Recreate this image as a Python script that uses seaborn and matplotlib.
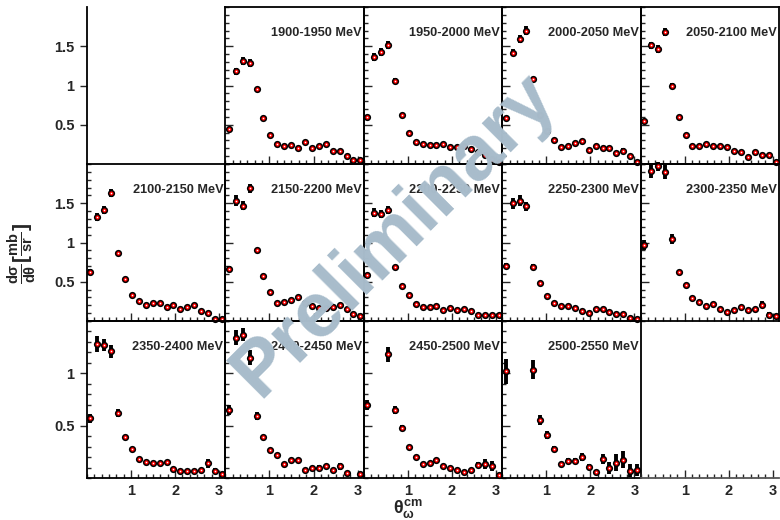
import numpy as np
import pandas as pd
import matplotlib
matplotlib.use("Agg")
import matplotlib.pyplot as plt
from matplotlib.ticker import MultipleLocator, FixedLocator, NullFormatter, NullLocator
import seaborn as sns

nan = np.nan

# theta_cm bin centres (20 bins from 0 to pi)
theta = [0.079, 0.236, 0.393, 0.550, 0.707, 0.864, 1.021, 1.178, 1.335, 1.492,
         1.649, 1.806, 1.963, 2.120, 2.278, 2.435, 2.592, 2.749, 2.906, 3.063]

labels = ["1900-1950 MeV", "1950-2000 MeV", "2000-2050 MeV", "2050-2100 MeV",
          "2100-2150 MeV", "2150-2200 MeV", "2200-2250 MeV", "2250-2300 MeV",
          "2300-2350 MeV", "2350-2400 MeV", "2400-2450 MeV", "2450-2500 MeV",
          "2500-2550 MeV"]

# dsigma/dtheta [mb/sr] and errors
d1900 = [0.44, 1.18, 1.31, 1.29, 0.955, 0.58, 0.365, 0.26, 0.23, 0.24, 0.21, 0.28, 0.21, 0.225, 0.255, 0.17, 0.17, 0.10, 0.05, 0.05]
e1900 = [0.02, 0.04, 0.05, 0.05, 0.03, 0.02, 0.015, 0.015, 0.015, 0.015, 0.015, 0.02, 0.015, 0.02, 0.02, 0.02, 0.02, 0.02, 0.02, 0.015]
d1950 = [0.60, 1.36, 1.43, 1.52, 1.06, 0.62, 0.40, 0.275, 0.26, 0.24, 0.24, 0.255, 0.22, 0.22, 0.23, 0.19, 0.15, 0.11, 0.06, 0.02]
e1950 = [0.02, 0.05, 0.05, 0.05, 0.03, 0.02, 0.015, 0.015, 0.015, 0.015, 0.015, 0.015, 0.015, 0.015, 0.015, 0.015, 0.015, 0.015, 0.015, 0.01]
d2000 = [0.59, 1.42, 1.59, 1.70, 1.08, 0.62, 0.42, 0.30, 0.22, 0.235, 0.265, 0.29, 0.18, 0.235, 0.20, 0.20, 0.14, 0.17, 0.105, 0.02]
e2000 = [0.02, 0.05, 0.05, 0.06, 0.03, 0.02, 0.015, 0.015, 0.015, 0.015, 0.015, 0.015, 0.015, 0.015, 0.02, 0.02, 0.02, 0.03, 0.02, 0.01]
d2050 = [0.55, 1.51, 1.465, 1.68, 1.0, 0.60, 0.37, 0.235, 0.23, 0.255, 0.235, 0.23, 0.215, 0.16, 0.15, 0.085, 0.155, 0.12, 0.12, 0.02]
e2050 = [0.02, 0.05, 0.05, 0.05, 0.03, 0.02, 0.015, 0.015, 0.015, 0.015, 0.015, 0.015, 0.015, 0.015, 0.015, 0.015, 0.02, 0.02, 0.02, 0.01]
d2100 = [0.63, 1.33, 1.41, 1.63, 0.86, 0.53, 0.33, 0.25, 0.21, 0.23, 0.235, 0.18, 0.205, 0.15, 0.18, 0.20, 0.13, 0.10, 0.02, 0.03]
e2100 = [0.03, 0.05, 0.05, 0.05, 0.03, 0.02, 0.015, 0.015, 0.015, 0.015, 0.015, 0.015, 0.015, 0.015, 0.015, 0.02, 0.02, 0.02, 0.015, 0.015]
d2150 = [0.665, 1.53, 1.47, 1.69, 0.905, 0.57, 0.37, 0.225, 0.24, 0.27, 0.31, 0.23, 0.19, 0.17, 0.16, 0.18, 0.21, 0.155, 0.085, 0.06]
e2150 = [0.03, 0.07, 0.06, 0.06, 0.03, 0.025, 0.02, 0.015, 0.015, 0.015, 0.02, 0.015, 0.015, 0.015, 0.015, 0.02, 0.025, 0.02, 0.02, 0.015]
d2200 = [0.585, 1.38, 1.36, 1.41, 0.685, 0.45, 0.33, 0.22, 0.175, 0.175, 0.195, 0.145, 0.16, 0.14, 0.15, 0.13, 0.08, 0.08, 0.08, 0.075]
e2200 = [0.03, 0.06, 0.05, 0.05, 0.03, 0.02, 0.02, 0.015, 0.015, 0.015, 0.015, 0.015, 0.015, 0.015, 0.015, 0.015, 0.015, 0.015, 0.015, 0.015]
d2250 = [0.70, 1.50, 1.53, 1.46, 0.69, 0.49, 0.32, 0.225, 0.185, 0.19, 0.16, 0.13, 0.10, 0.15, 0.155, 0.11, 0.09, 0.09, 0.035, 0.02]
e2250 = [0.04, 0.07, 0.07, 0.06, 0.03, 0.02, 0.02, 0.015, 0.015, 0.015, 0.015, 0.015, 0.015, 0.015, 0.015, 0.02, 0.02, 0.03, 0.02, 0.015]
d2300 = [0.97, 1.905, 1.97, 1.90, 1.045, 0.62, 0.455, 0.29, 0.24, 0.185, 0.22, 0.155, 0.11, 0.145, 0.175, 0.135, 0.15, 0.21, 0.08, 0.065]
e2300 = [0.06, 0.08, 0.06, 0.09, 0.06, 0.03, 0.02, 0.02, 0.015, 0.015, 0.02, 0.015, 0.015, 0.015, 0.02, 0.02, 0.03, 0.05, 0.03, 0.02]
d2350 = [0.57, 1.28, 1.27, 1.21, 0.62, 0.39, 0.28, 0.18, 0.15, 0.14, 0.145, 0.15, 0.09, 0.07, 0.065, 0.07, 0.08, 0.14, 0.07, 0.04]
e2350 = [0.04, 0.08, 0.06, 0.06, 0.04, 0.025, 0.02, 0.015, 0.015, 0.015, 0.015, 0.015, 0.015, 0.015, 0.015, 0.015, 0.02, 0.04, 0.03, 0.02]
d2400 = [0.65, 1.34, 1.37, 1.15, 0.59, 0.39, 0.27, 0.22, 0.13, 0.17, 0.17, 0.08, 0.10, 0.10, 0.115, 0.08, 0.11, 0.05, nan, 0.04]
e2400 = [0.05, 0.07, 0.06, 0.07, 0.04, 0.025, 0.02, 0.02, 0.015, 0.015, 0.015, 0.015, 0.015, 0.02, 0.02, 0.02, 0.03, 0.02, nan, 0.02]
d2450 = [0.695, nan, nan, 1.18, 0.65, 0.475, 0.30, 0.205, 0.13, 0.145, 0.17, 0.11, 0.10, 0.08, 0.055, 0.08, 0.125, 0.135, 0.115, 0.03]
e2450 = [0.05, nan, nan, 0.07, 0.04, 0.03, 0.02, 0.015, 0.015, 0.015, 0.02, 0.015, 0.015, 0.015, 0.015, 0.02, 0.03, 0.05, 0.05, 0.02]
d2500 = [1.02, nan, nan, nan, 1.035, 0.555, 0.41, 0.28, 0.135, 0.16, 0.165, 0.20, 0.105, 0.055, 0.18, 0.095, 0.145, 0.175, 0.07, 0.075]
e2500 = [0.12, nan, nan, nan, 0.09, 0.05, 0.04, 0.03, 0.02, 0.03, 0.03, 0.04, 0.03, 0.02, 0.05, 0.06, 0.08, 0.08, 0.06, 0.06]

values = [d1900, d1950, d2000, d2050, d2100, d2150, d2200, d2250, d2300,
          d2350, d2400, d2450, d2500]
errors = [e1900, e1950, e2000, e2050, e2100, e2150, e2200, e2250, e2300,
          e2350, e2400, e2450, e2500]

# pad slots (row, col) for the 13 energy bins; (0,0) and (2,4) are empty
slots = [(0, 1), (0, 2), (0, 3), (0, 4),
         (1, 0), (1, 1), (1, 2), (1, 3), (1, 4),
         (2, 0), (2, 1), (2, 2), (2, 3)]
row_ymax = [2.0, 2.0, 1.5]

sns.set_style("ticks")
plt.rcParams['font.family'] = ['Liberation Sans', 'DejaVu Sans']
plt.rcParams['font.weight'] = 'bold'
plt.rcParams['mathtext.fontset'] = 'custom'
plt.rcParams['mathtext.rm'] = 'Liberation Sans:bold'
plt.rcParams['mathtext.it'] = 'Liberation Sans:bold'
plt.rcParams['mathtext.bf'] = 'Liberation Sans:bold'

W, H = 780, 520
fig = plt.figure(figsize=(7.8, 5.2), dpi=100)
fig.patch.set_facecolor('white')

x0, top, colw, rowh = 87, 7, 138.4, 157


def make_axes(r, c):
    rect = [(x0 + c * colw) / W, 1 - (top + (r + 1) * rowh) / H, colw / W, rowh / H]
    ax = fig.add_axes(rect)
    ax.set_facecolor('none')
    ax.set_xlim(0, np.pi)
    ax.set_ylim(0, row_ymax[r])
    for s in ax.spines.values():
        s.set_linewidth(1.3)
        s.set_color('black')
    ax.xaxis.set_major_locator(FixedLocator([1, 2, 3]))
    ax.xaxis.set_minor_locator(MultipleLocator(1 / 6))
    yt = [0.5, 1.0, 1.5] if row_ymax[r] > 1.6 else [0.5, 1.0]
    ax.yaxis.set_major_locator(FixedLocator(yt))
    ax.yaxis.set_minor_locator(MultipleLocator(0.1))
    ax.tick_params(which='both', direction='in', top=False, right=False,
                   width=1.0, labelsize=10.5, pad=4)
    ax.tick_params(which='major', length=6)
    ax.tick_params(which='minor', length=3)
    if r == 2:
        ax.set_xticklabels(['1', '2', '3'], fontweight='bold')
    else:
        ax.xaxis.set_major_formatter(NullFormatter())
    if c == 0:
        ax.set_yticklabels([f"{v:g}" for v in yt], fontweight='bold')
        ax.tick_params(axis='y', which='major', direction='out', length=5)
    else:
        ax.yaxis.set_major_formatter(NullFormatter())
    ax.set_xlabel('')
    ax.set_ylabel('')
    return ax


# empty top-left pad: only the y axis
ax_e = make_axes(0, 0)
ax_e.spines['top'].set_visible(False)
ax_e.spines['right'].set_visible(False)
ax_e.spines['bottom'].set_visible(False)
ax_e.yaxis.set_minor_locator(NullLocator())
ax_e.xaxis.set_major_locator(NullLocator())
ax_e.xaxis.set_minor_locator(NullLocator())

for lab, d, e, (r, c) in zip(labels, values, errors, slots):
    ax = make_axes(r, c)
    df = pd.DataFrame({'theta': theta, 'dsig': d, 'err': e}).dropna()
    ax.errorbar(df['theta'], df['dsig'], yerr=df['err'], fmt='none',
                ecolor='black', elinewidth=2.8, capsize=0, zorder=2, clip_on=False)
    # black body, red ring, white centre
    sns.scatterplot(data=df, x='theta', y='dsig', ax=ax, marker='o', s=27,
                    color='black', linewidth=0, legend=False, zorder=3,
                    clip_on=False)
    sns.scatterplot(data=df, x='theta', y='dsig', ax=ax, marker='o', s=9,
                    color='#ff0000', linewidth=0, legend=False, zorder=4,
                    clip_on=False)
    sns.scatterplot(data=df, x='theta', y='dsig', ax=ax, marker='o', s=1.3,
                    color='white', linewidth=0, legend=False, zorder=5,
                    clip_on=False)
    ax.set_xlabel('')
    ax.set_ylabel('')
    ax.text(0.985, 0.835, lab, transform=ax.transAxes, ha='right', va='center',
            fontsize=9.2, fontweight='bold')

# empty bottom-right pad: only the x axis
ax_b = make_axes(2, 4)
ax_b.spines['top'].set_visible(False)
ax_b.spines['right'].set_visible(False)
ax_b.spines['left'].set_visible(False)
ax_b.spines['bottom'].set_color('#555555')
ax_b.yaxis.set_major_locator(NullLocator())
ax_b.yaxis.set_minor_locator(NullLocator())

# axis titles
fig.text(22 / W, 1 - 254 / H,
         r'$\frac{\mathbf{d}\sigma}{\mathbf{d}\theta}[\frac{\mathbf{mb}}{\mathbf{sr}}]$',
         rotation=90, ha='center', va='center', fontsize=15)
fig.text(408 / W, 1 - 509 / H, r'$\theta_{\omega}^{\mathbf{cm}}$',
         ha='center', va='center', fontsize=13)

# watermark
fig.text(395 / W, 1 - 235 / H, 'Preliminary', rotation=45, ha='center',
         va='center', fontsize=56, fontweight='bold', color='#a8bccb',
         zorder=10)

fig.savefig('out.png', dpi=100, facecolor='white')
